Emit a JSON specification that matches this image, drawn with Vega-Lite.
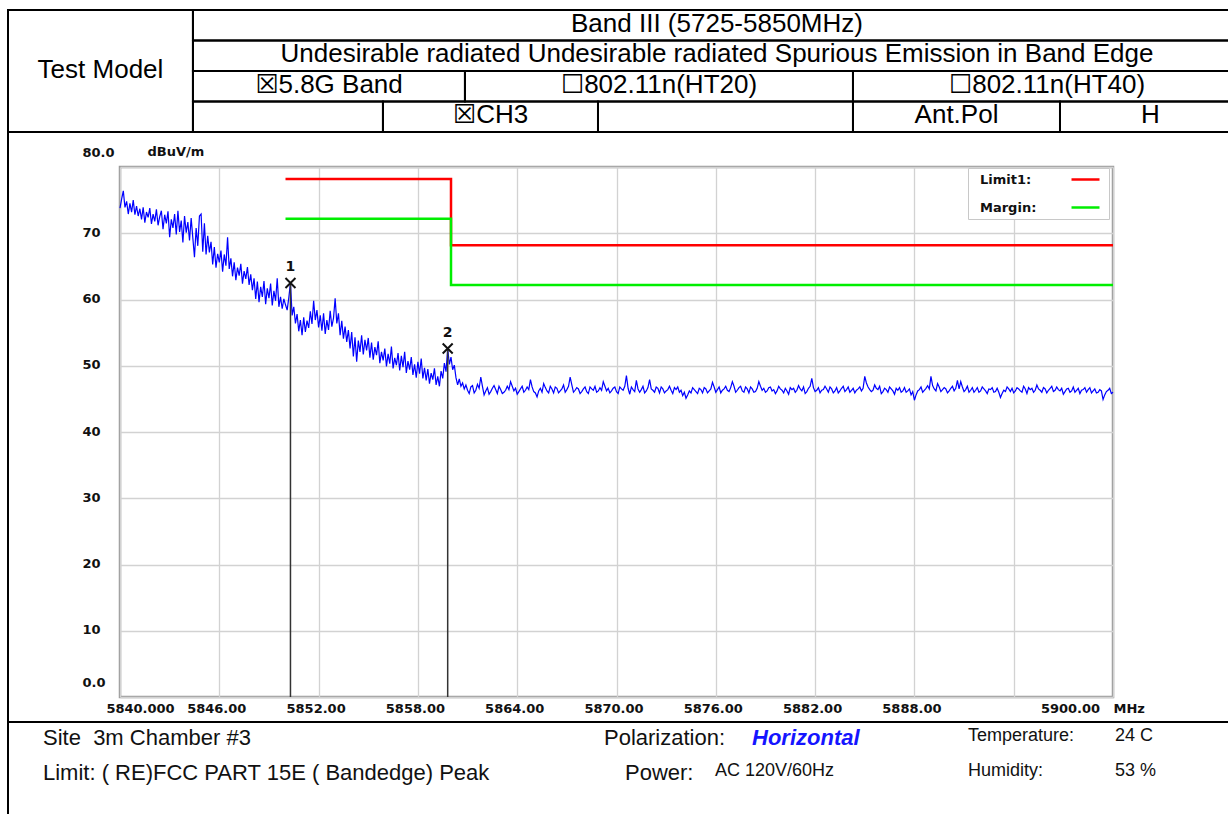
{
  "$schema": "https://vega.github.io/schema/vega-lite/v6.json",
  "width": 993,
  "height": 530,
  "autosize": "none",
  "padding": {"left": 120, "top": 167, "right": 115, "bottom": 117},
  "background": "white",
  "config": {
    "view": {"stroke": "#9a9a9a", "strokeWidth": 2.5},
    "axis": {
      "labelFont": "DejaVu Sans", "labelFontWeight": "bold", "labelFontSize": 13, "labelColor": "#111111",
      "titleFont": "DejaVu Sans", "titleFontWeight": "bold", "titleFontSize": 13, "titleColor": "#111111",
      "grid": true, "gridColor": "#d2d2d2", "gridWidth": 1.3,
      "ticks": false, "tickSize": 0, "domain": false,
      "labelOverlap": false, "labelFlush": false, "labelBound": false
    }
  },
  "datasets": {
    "trace": [
      {"f":5840.0,"v":73.8},{"f":5840.1,"v":75.2},{"f":5840.2,"v":76.4},{"f":5840.3,"v":73.9},{"f":5840.4,"v":74.8},{"f":5840.5,"v":72.9},{"f":5840.6,"v":74.5},{"f":5840.7,"v":73.2},{"f":5840.8,"v":75.0},{"f":5840.9,"v":72.8},
      {"f":5841.0,"v":74.1},{"f":5841.1,"v":72.6},{"f":5841.2,"v":73.7},{"f":5841.3,"v":72.1},{"f":5841.4,"v":73.9},{"f":5841.5,"v":71.6},{"f":5841.6,"v":73.2},{"f":5841.7,"v":72.4},{"f":5841.8,"v":73.8},{"f":5841.9,"v":71.4},
      {"f":5842.0,"v":72.9},{"f":5842.1,"v":71.8},{"f":5842.2,"v":73.6},{"f":5842.3,"v":71.2},{"f":5842.4,"v":72.5},{"f":5842.5,"v":73.4},{"f":5842.6,"v":70.6},{"f":5842.7,"v":72.8},{"f":5842.8,"v":71.5},{"f":5842.9,"v":73.3},
      {"f":5843.0,"v":69.4},{"f":5843.1,"v":72.1},{"f":5843.2,"v":70.8},{"f":5843.3,"v":72.9},{"f":5843.4,"v":69.8},{"f":5843.5,"v":73.4},{"f":5843.6,"v":70.2},{"f":5843.7,"v":71.9},{"f":5843.8,"v":68.6},{"f":5843.9,"v":72.6},
      {"f":5844.0,"v":70.1},{"f":5844.1,"v":71.7},{"f":5844.2,"v":68.9},{"f":5844.3,"v":72.3},{"f":5844.4,"v":69.3},{"f":5844.5,"v":66.4},{"f":5844.6,"v":70.8},{"f":5844.7,"v":68.1},{"f":5844.8,"v":72.6},{"f":5844.9,"v":72.9},
      {"f":5845.0,"v":67.2},{"f":5845.1,"v":71.5},{"f":5845.2,"v":66.8},{"f":5845.3,"v":69.6},{"f":5845.4,"v":67.1},{"f":5845.5,"v":68.7},{"f":5845.6,"v":65.3},{"f":5845.7,"v":67.9},{"f":5845.8,"v":64.8},{"f":5845.9,"v":66.9},
      {"f":5846.0,"v":65.6},{"f":5846.1,"v":67.4},{"f":5846.2,"v":64.2},{"f":5846.3,"v":66.8},{"f":5846.4,"v":65.1},{"f":5846.5,"v":69.4},{"f":5846.6,"v":64.6},{"f":5846.7,"v":66.2},{"f":5846.8,"v":63.5},{"f":5846.9,"v":65.6},
      {"f":5847.0,"v":62.9},{"f":5847.1,"v":64.8},{"f":5847.2,"v":63.6},{"f":5847.3,"v":65.4},{"f":5847.4,"v":62.4},{"f":5847.5,"v":64.3},{"f":5847.6,"v":63.1},{"f":5847.7,"v":64.9},{"f":5847.8,"v":62.2},{"f":5847.9,"v":63.8},
      {"f":5848.0,"v":61.4},{"f":5848.1,"v":63.2},{"f":5848.2,"v":60.1},{"f":5848.3,"v":62.7},{"f":5848.4,"v":59.6},{"f":5848.5,"v":61.9},{"f":5848.6,"v":60.4},{"f":5848.7,"v":62.8},{"f":5848.8,"v":59.3},{"f":5848.9,"v":61.7},
      {"f":5849.0,"v":60.2},{"f":5849.1,"v":62.4},{"f":5849.2,"v":59.1},{"f":5849.3,"v":61.3},{"f":5849.4,"v":59.8},{"f":5849.5,"v":63.2},{"f":5849.6,"v":58.9},{"f":5849.7,"v":60.4},{"f":5849.8,"v":58.6},{"f":5849.9,"v":60.1},
      {"f":5850.0,"v":59.2},{"f":5850.1,"v":58.4},{"f":5850.2,"v":60.3},{"f":5850.3,"v":62.5},{"f":5850.4,"v":57.6},{"f":5850.5,"v":58.9},{"f":5850.6,"v":56.4},{"f":5850.7,"v":57.8},{"f":5850.8,"v":55.2},{"f":5850.9,"v":56.9},
      {"f":5851.0,"v":54.6},{"f":5851.1,"v":57.3},{"f":5851.2,"v":55.1},{"f":5851.3,"v":56.8},{"f":5851.4,"v":55.7},{"f":5851.5,"v":58.2},{"f":5851.6,"v":56.3},{"f":5851.7,"v":59.8},{"f":5851.8,"v":56.9},{"f":5851.9,"v":58.4},
      {"f":5852.0,"v":55.8},{"f":5852.1,"v":57.6},{"f":5852.2,"v":55.3},{"f":5852.3,"v":57.9},{"f":5852.4,"v":54.8},{"f":5852.5,"v":56.9},{"f":5852.6,"v":55.4},{"f":5852.7,"v":58.3},{"f":5852.8,"v":55.9},{"f":5852.9,"v":57.2},
      {"f":5853.0,"v":60.2},{"f":5853.1,"v":56.4},{"f":5853.2,"v":57.9},{"f":5853.3,"v":54.6},{"f":5853.4,"v":56.8},{"f":5853.5,"v":54.1},{"f":5853.6,"v":55.9},{"f":5853.7,"v":53.6},{"f":5853.8,"v":55.4},{"f":5853.9,"v":52.6},
      {"f":5854.0,"v":55.1},{"f":5854.1,"v":51.4},{"f":5854.2,"v":54.3},{"f":5854.3,"v":50.6},{"f":5854.4,"v":53.8},{"f":5854.5,"v":52.1},{"f":5854.6,"v":54.6},{"f":5854.7,"v":51.7},{"f":5854.8,"v":53.9},{"f":5854.9,"v":52.3},
      {"f":5855.0,"v":54.2},{"f":5855.1,"v":51.2},{"f":5855.2,"v":53.5},{"f":5855.3,"v":50.9},{"f":5855.4,"v":52.8},{"f":5855.5,"v":51.6},{"f":5855.6,"v":53.7},{"f":5855.7,"v":50.4},{"f":5855.8,"v":52.1},{"f":5855.9,"v":50.8},
      {"f":5856.0,"v":52.6},{"f":5856.1,"v":49.9},{"f":5856.2,"v":51.8},{"f":5856.3,"v":50.3},{"f":5856.4,"v":52.9},{"f":5856.5,"v":49.6},{"f":5856.6,"v":51.2},{"f":5856.7,"v":50.1},{"f":5856.8,"v":51.9},{"f":5856.9,"v":49.3},
      {"f":5857.0,"v":51.5},{"f":5857.1,"v":49.8},{"f":5857.2,"v":52.1},{"f":5857.3,"v":48.9},{"f":5857.4,"v":50.7},{"f":5857.5,"v":49.4},{"f":5857.6,"v":51.3},{"f":5857.7,"v":48.6},{"f":5857.8,"v":50.2},{"f":5857.9,"v":48.2},
      {"f":5858.0,"v":50.6},{"f":5858.1,"v":48.8},{"f":5858.2,"v":51.1},{"f":5858.3,"v":48.1},{"f":5858.4,"v":49.7},{"f":5858.5,"v":47.8},{"f":5858.6,"v":49.5},{"f":5858.7,"v":47.3},{"f":5858.8,"v":48.9},{"f":5858.9,"v":47.9},
      {"f":5859.0,"v":49.6},{"f":5859.1,"v":47.1},{"f":5859.2,"v":48.4},{"f":5859.3,"v":46.9},{"f":5859.4,"v":49.2},{"f":5859.5,"v":48.1},{"f":5859.6,"v":50.4},{"f":5859.7,"v":49.1},{"f":5859.8,"v":52.6},{"f":5859.9,"v":50.2},
      {"f":5860.0,"v":51.3},{"f":5860.1,"v":49.4},{"f":5860.2,"v":50.1},{"f":5860.3,"v":48.2},{"f":5860.4,"v":47.1},{"f":5860.5,"v":48.0},{"f":5860.6,"v":46.9},{"f":5860.7,"v":47.4},{"f":5860.8,"v":46.5},{"f":5860.9,"v":47.1},
      {"f":5861.0,"v":46.3},{"f":5861.2,"v":46.8},{"f":5861.4,"v":45.9},{"f":5861.6,"v":47.2},{"f":5861.8,"v":48.3},{"f":5862.0,"v":45.6},{"f":5862.2,"v":46.7},{"f":5862.4,"v":46.1},{"f":5862.6,"v":47.0},{"f":5862.8,"v":45.8},
      {"f":5863.0,"v":46.4},{"f":5863.2,"v":46.0},{"f":5863.4,"v":46.9},{"f":5863.6,"v":47.6},{"f":5863.8,"v":46.2},{"f":5864.0,"v":45.7},{"f":5864.2,"v":46.5},{"f":5864.4,"v":46.0},{"f":5864.6,"v":46.8},{"f":5864.8,"v":47.9},
      {"f":5865.0,"v":46.1},{"f":5865.2,"v":45.3},{"f":5865.4,"v":46.6},{"f":5865.6,"v":47.3},{"f":5865.8,"v":46.2},{"f":5866.0,"v":46.9},{"f":5866.2,"v":45.9},{"f":5866.4,"v":46.6},{"f":5866.6,"v":46.2},{"f":5866.8,"v":47.1},
      {"f":5867.0,"v":46.4},{"f":5867.2,"v":48.3},{"f":5867.4,"v":46.0},{"f":5867.6,"v":46.7},{"f":5867.8,"v":45.8},{"f":5868.0,"v":46.5},{"f":5868.2,"v":46.1},{"f":5868.4,"v":46.8},{"f":5868.6,"v":46.3},{"f":5868.8,"v":46.0},
      {"f":5869.0,"v":46.7},{"f":5869.2,"v":47.6},{"f":5869.4,"v":46.2},{"f":5869.6,"v":45.9},{"f":5869.8,"v":46.6},{"f":5870.0,"v":46.1},{"f":5870.2,"v":46.8},{"f":5870.4,"v":46.3},{"f":5870.6,"v":48.5},{"f":5870.8,"v":45.7},
      {"f":5871.0,"v":46.4},{"f":5871.2,"v":47.8},{"f":5871.4,"v":46.0},{"f":5871.6,"v":46.9},{"f":5871.8,"v":46.2},{"f":5872.0,"v":47.9},{"f":5872.2,"v":46.3},{"f":5872.4,"v":46.8},{"f":5872.6,"v":45.9},{"f":5872.8,"v":46.5},
      {"f":5873.0,"v":46.2},{"f":5873.2,"v":46.9},{"f":5873.4,"v":45.8},{"f":5873.6,"v":46.4},{"f":5873.8,"v":46.0},{"f":5874.0,"v":45.5},{"f":5874.2,"v":45.1},{"f":5874.4,"v":46.2},{"f":5874.6,"v":46.7},{"f":5874.8,"v":46.1},
      {"f":5875.0,"v":46.6},{"f":5875.2,"v":45.9},{"f":5875.4,"v":46.5},{"f":5875.6,"v":46.2},{"f":5875.8,"v":47.5},{"f":5876.0,"v":46.0},{"f":5876.2,"v":46.8},{"f":5876.4,"v":46.3},{"f":5876.6,"v":46.9},{"f":5876.8,"v":46.1},
      {"f":5877.0,"v":47.6},{"f":5877.2,"v":46.0},{"f":5877.4,"v":46.7},{"f":5877.6,"v":46.2},{"f":5877.8,"v":46.8},{"f":5878.0,"v":45.9},{"f":5878.2,"v":46.5},{"f":5878.4,"v":46.1},{"f":5878.6,"v":47.6},{"f":5878.8,"v":46.3},
      {"f":5879.0,"v":46.0},{"f":5879.2,"v":46.7},{"f":5879.4,"v":46.2},{"f":5879.6,"v":45.8},{"f":5879.8,"v":46.9},{"f":5880.0,"v":46.3},{"f":5880.2,"v":46.6},{"f":5880.4,"v":45.7},{"f":5880.6,"v":46.4},{"f":5880.8,"v":46.0},
      {"f":5881.0,"v":47.0},{"f":5881.2,"v":46.2},{"f":5881.4,"v":45.8},{"f":5881.6,"v":46.6},{"f":5881.8,"v":48.1},{"f":5882.0,"v":46.1},{"f":5882.2,"v":46.7},{"f":5882.4,"v":46.3},{"f":5882.6,"v":46.9},{"f":5882.8,"v":46.0},
      {"f":5883.0,"v":46.5},{"f":5883.2,"v":46.2},{"f":5883.4,"v":45.9},{"f":5883.6,"v":46.6},{"f":5883.8,"v":46.1},{"f":5884.0,"v":46.8},{"f":5884.2,"v":46.3},{"f":5884.4,"v":45.9},{"f":5884.6,"v":46.5},{"f":5884.8,"v":46.2},
      {"f":5885.0,"v":48.4},{"f":5885.2,"v":46.8},{"f":5885.4,"v":46.1},{"f":5885.6,"v":47.1},{"f":5885.8,"v":46.4},{"f":5886.0,"v":45.8},{"f":5886.2,"v":46.6},{"f":5886.4,"v":46.0},{"f":5886.6,"v":46.5},{"f":5886.8,"v":45.7},
      {"f":5887.0,"v":46.3},{"f":5887.2,"v":46.0},{"f":5887.4,"v":46.7},{"f":5887.6,"v":46.2},{"f":5887.8,"v":45.6},{"f":5888.0,"v":44.8},{"f":5888.2,"v":46.2},{"f":5888.4,"v":46.8},{"f":5888.6,"v":46.3},{"f":5888.8,"v":47.0},
      {"f":5889.0,"v":48.4},{"f":5889.2,"v":46.5},{"f":5889.4,"v":47.3},{"f":5889.6,"v":46.1},{"f":5889.8,"v":46.7},{"f":5890.0,"v":45.9},{"f":5890.2,"v":46.6},{"f":5890.4,"v":46.2},{"f":5890.6,"v":47.8},{"f":5890.8,"v":47.6},
      {"f":5891.0,"v":46.1},{"f":5891.2,"v":46.9},{"f":5891.4,"v":46.3},{"f":5891.6,"v":46.0},{"f":5891.8,"v":46.7},{"f":5892.0,"v":46.2},{"f":5892.2,"v":46.5},{"f":5892.4,"v":45.8},{"f":5892.6,"v":46.4},{"f":5892.8,"v":46.0},
      {"f":5893.0,"v":46.6},{"f":5893.2,"v":45.2},{"f":5893.4,"v":46.3},{"f":5893.6,"v":46.8},{"f":5893.8,"v":46.1},{"f":5894.0,"v":45.9},{"f":5894.2,"v":46.7},{"f":5894.4,"v":46.2},{"f":5894.6,"v":46.9},{"f":5894.8,"v":45.8},
      {"f":5895.0,"v":46.4},{"f":5895.2,"v":46.0},{"f":5895.4,"v":47.1},{"f":5895.6,"v":46.3},{"f":5895.8,"v":46.7},{"f":5896.0,"v":45.9},{"f":5896.2,"v":46.6},{"f":5896.4,"v":46.1},{"f":5896.6,"v":46.8},{"f":5896.8,"v":46.2},
      {"f":5897.0,"v":45.7},{"f":5897.2,"v":46.5},{"f":5897.4,"v":46.0},{"f":5897.6,"v":46.8},{"f":5897.8,"v":46.3},{"f":5898.0,"v":45.8},{"f":5898.2,"v":46.4},{"f":5898.4,"v":46.0},{"f":5898.6,"v":46.7},{"f":5898.8,"v":46.2},
      {"f":5899.0,"v":45.9},{"f":5899.2,"v":46.4},{"f":5899.4,"v":44.9},{"f":5899.6,"v":46.1},{"f":5899.8,"v":46.6},{"f":5900.0,"v":46.0},
      {"f":5861.1,"v":45.8},{"f":5861.3,"v":47.0},{"f":5861.5,"v":46.3},{"f":5861.7,"v":46.6},{"f":5861.9,"v":46.9},{"f":5862.1,"v":46.2},{"f":5862.3,"v":45.7},{"f":5862.5,"v":46.6},{"f":5862.7,"v":46.4},{"f":5862.9,"v":46.9},
      {"f":5863.1,"v":45.8},{"f":5863.3,"v":46.3},{"f":5863.5,"v":46.4},{"f":5863.7,"v":46.9},{"f":5863.9,"v":46.6},{"f":5864.1,"v":46.1},{"f":5864.3,"v":46.9},{"f":5864.5,"v":46.3},{"f":5864.7,"v":46.4},{"f":5864.9,"v":46.8},
      {"f":5865.1,"v":45.9},{"f":5865.3,"v":46.2},{"f":5865.5,"v":46.0},{"f":5865.7,"v":46.7},{"f":5865.9,"v":45.9},{"f":5866.1,"v":46.5},{"f":5866.3,"v":46.8},{"f":5866.5,"v":45.9},{"f":5866.7,"v":46.5},{"f":5866.9,"v":46.0},
      {"f":5867.1,"v":46.9},{"f":5867.3,"v":47.1},{"f":5867.5,"v":46.3},{"f":5867.7,"v":46.5},{"f":5867.9,"v":46.1},{"f":5868.1,"v":46.8},{"f":5868.3,"v":45.8},{"f":5868.5,"v":46.5},{"f":5868.7,"v":46.9},{"f":5868.9,"v":46.2},
      {"f":5869.1,"v":46.3},{"f":5869.3,"v":46.9},{"f":5869.5,"v":46.6},{"f":5869.7,"v":46.2},{"f":5869.9,"v":46.8},{"f":5870.1,"v":45.8},{"f":5870.3,"v":46.5},{"f":5870.5,"v":46.9},{"f":5870.7,"v":46.6},{"f":5870.9,"v":46.8},
      {"f":5871.1,"v":46.1},{"f":5871.3,"v":46.5},{"f":5871.5,"v":46.4},{"f":5871.7,"v":45.9},{"f":5871.9,"v":46.7},{"f":5872.1,"v":46.5},{"f":5872.3,"v":46.0},{"f":5872.5,"v":46.6},{"f":5872.7,"v":46.8},{"f":5872.9,"v":45.9},
      {"f":5873.1,"v":46.4},{"f":5873.3,"v":46.3},{"f":5873.5,"v":46.7},{"f":5873.7,"v":46.8},{"f":5873.9,"v":46.3},{"f":5874.1,"v":46.0},{"f":5874.3,"v":45.6},{"f":5874.5,"v":45.9},{"f":5874.7,"v":46.4},{"f":5874.9,"v":45.8},
      {"f":5875.1,"v":46.4},{"f":5875.3,"v":46.7},{"f":5875.5,"v":45.9},{"f":5875.7,"v":46.5},{"f":5875.9,"v":46.8},{"f":5876.1,"v":46.4},{"f":5876.3,"v":45.9},{"f":5876.5,"v":46.5},{"f":5876.7,"v":46.3},{"f":5876.9,"v":46.7},
      {"f":5877.1,"v":46.9},{"f":5877.3,"v":46.3},{"f":5877.5,"v":46.9},{"f":5877.7,"v":46.0},{"f":5877.9,"v":46.5},{"f":5878.1,"v":46.8},{"f":5878.3,"v":46.0},{"f":5878.5,"v":46.6},{"f":5878.7,"v":46.9},{"f":5878.9,"v":46.6},
      {"f":5879.1,"v":46.2},{"f":5879.3,"v":46.8},{"f":5879.5,"v":46.4},{"f":5879.7,"v":46.2},{"f":5879.9,"v":46.5},{"f":5880.1,"v":45.9},{"f":5880.3,"v":46.2},{"f":5880.5,"v":46.7},{"f":5880.7,"v":46.6},{"f":5880.9,"v":46.3},
      {"f":5881.1,"v":46.5},{"f":5881.3,"v":46.8},{"f":5881.5,"v":46.1},{"f":5881.7,"v":46.9},{"f":5881.9,"v":46.7},{"f":5882.1,"v":46.3},{"f":5882.3,"v":45.9},{"f":5882.5,"v":46.4},{"f":5882.7,"v":46.5},{"f":5882.9,"v":46.8},
      {"f":5883.1,"v":45.9},{"f":5883.3,"v":46.7},{"f":5883.5,"v":46.2},{"f":5883.7,"v":46.9},{"f":5883.9,"v":46.4},{"f":5884.1,"v":46.0},{"f":5884.3,"v":46.6},{"f":5884.5,"v":46.3},{"f":5884.7,"v":46.8},{"f":5884.9,"v":46.6},
      {"f":5885.1,"v":47.4},{"f":5885.3,"v":46.4},{"f":5885.5,"v":46.3},{"f":5885.7,"v":46.6},{"f":5885.9,"v":46.9},{"f":5886.1,"v":46.1},{"f":5886.3,"v":46.4},{"f":5886.5,"v":46.8},{"f":5886.7,"v":46.2},{"f":5886.9,"v":46.6},
      {"f":5887.1,"v":46.7},{"f":5887.3,"v":46.2},{"f":5887.5,"v":46.0},{"f":5887.7,"v":46.5},{"f":5887.9,"v":46.1},{"f":5888.1,"v":45.6},{"f":5888.3,"v":46.4},{"f":5888.5,"v":46.0},{"f":5888.7,"v":46.6},{"f":5888.9,"v":46.5},
      {"f":5889.1,"v":47.0},{"f":5889.3,"v":46.2},{"f":5889.5,"v":46.8},{"f":5889.7,"v":46.4},{"f":5889.9,"v":46.5},{"f":5890.1,"v":46.2},{"f":5890.3,"v":46.9},{"f":5890.5,"v":46.6},{"f":5890.7,"v":46.5},{"f":5890.9,"v":46.8},
      {"f":5891.1,"v":46.4},{"f":5891.3,"v":46.0},{"f":5891.5,"v":46.7},{"f":5891.7,"v":46.3},{"f":5891.9,"v":46.0},{"f":5892.1,"v":46.8},{"f":5892.3,"v":46.2},{"f":5892.5,"v":46.5},{"f":5892.7,"v":46.7},{"f":5892.9,"v":46.1},
      {"f":5893.1,"v":46.0},{"f":5893.3,"v":45.8},{"f":5893.5,"v":46.1},{"f":5893.7,"v":46.5},{"f":5893.9,"v":46.6},{"f":5894.1,"v":46.2},{"f":5894.3,"v":46.5},{"f":5894.5,"v":46.0},{"f":5894.7,"v":46.5},{"f":5894.9,"v":46.7},
      {"f":5895.1,"v":46.6},{"f":5895.3,"v":46.3},{"f":5895.5,"v":46.5},{"f":5895.7,"v":46.0},{"f":5895.9,"v":46.5},{"f":5896.1,"v":46.3},{"f":5896.3,"v":46.9},{"f":5896.5,"v":46.3},{"f":5896.7,"v":46.4},{"f":5896.9,"v":46.6},
      {"f":5897.1,"v":46.1},{"f":5897.3,"v":46.6},{"f":5897.5,"v":46.2},{"f":5897.7,"v":46.0},{"f":5897.9,"v":46.6},{"f":5898.1,"v":46.3},{"f":5898.3,"v":46.7},{"f":5898.5,"v":46.4},{"f":5898.7,"v":45.9},{"f":5898.9,"v":46.5},
      {"f":5899.1,"v":46.0},{"f":5899.3,"v":46.2},{"f":5899.5,"v":45.6},{"f":5899.7,"v":46.3},{"f":5899.9,"v":45.8}
    ],
    "limits": [
      {"series":"Limit1:","f":5850,"v":78.2},{"series":"Limit1:","f":5860,"v":68.2},{"series":"Limit1:","f":5900,"v":68.2},
      {"series":"Margin:","f":5850,"v":72.2},{"series":"Margin:","f":5860,"v":62.2},{"series":"Margin:","f":5900,"v":62.2}
    ],
    "markers": [
      {"m":"1","f":5850.3,"v":62.5},
      {"m":"2","f":5859.8,"v":52.6}
    ],
    "table": [
      {"cell":"c01","label":"Test Model","px":0,"row":0},{"cell":"c01","label":"Test Model","px":15.0,"row":4},
      {"cell":"c02","label":"Band III (5725-5850MHz)","px":15.0,"row":0},{"cell":"c02","label":"Band III (5725-5850MHz)","px":100,"row":1},
      {"cell":"c03","label":"Undesirable radiated Undesirable radiated Spurious Emission in Band Edge","px":15.0,"row":1},{"cell":"c03","label":"Undesirable radiated Undesirable radiated Spurious Emission in Band Edge","px":100,"row":2},
      {"cell":"c04","label":"☒5.8G Band","px":15.0,"row":2},{"cell":"c04","label":"☒5.8G Band","px":37.06,"row":3},
      {"cell":"c05","label":"☐802.11n(HT20)","px":37.06,"row":2},{"cell":"c05","label":"☐802.11n(HT20)","px":68.53,"row":3},
      {"cell":"c06","label":"☐802.11n(HT40)","px":68.53,"row":2},{"cell":"c06","label":"☐802.11n(HT40)","px":100,"row":3},
      {"cell":"c07","label":"","px":15.0,"row":3},{"cell":"c07","label":"","px":30.41,"row":4},
      {"cell":"c08","label":"☒CH3","px":30.41,"row":3},{"cell":"c08","label":"☒CH3","px":47.85,"row":4},
      {"cell":"c09","label":"","px":47.85,"row":3},{"cell":"c09","label":"","px":68.53,"row":4},
      {"cell":"c10","label":"Ant.Pol","px":68.53,"row":3},{"cell":"c10","label":"Ant.Pol","px":85.32,"row":4},
      {"cell":"c11","label":"H","px":85.32,"row":3},{"cell":"c11","label":"H","px":100,"row":4}
    ],
    "frame": [
      {"c0":-1,"c1":-1,"l0":-1,"l1":3},
      {"c0":-1,"c1":7,"l0":0,"l1":0}
    ],
    "footerMain": [
      {"text":"Site\u00a0 3m Chamber #3","col":0,"line":1},
      {"text":"Limit: ( RE)FCC PART 15E ( Bandedge) Peak","col":0,"line":2},
      {"text":"Polarization:","col":1,"line":1},
      {"text":"Power:","col":2,"line":2}
    ],
    "footerEmph": [
      {"text":"Horizontal","col":4,"line":1}
    ],
    "footerSmall": [
      {"text":"AC 120V/60Hz","col":3,"line":2},
      {"text":"Temperature:","col":5,"line":1},
      {"text":"24 C","col":6,"line":1},
      {"text":"Humidity:","col":5,"line":2},
      {"text":"53 %","col":6,"line":2}
    ]
  },
  "resolve": {"scale": {"x": "independent", "y": "independent", "color": "independent"}},
  "layer": [
    {
      "layer": [
        {
          "data": {"name": "limits"},
          "mark": {"type": "line", "interpolate": "step-after", "strokeWidth": 2.5},
          "encoding": {
            "x": {
              "field": "f", "type": "quantitative",
              "scale": {"domain": [5840, 5900], "nice": false, "zero": false},
              "axis": {
                "values": [5840, 5846, 5852, 5858, 5864, 5870, 5876, 5882, 5888, 5894, 5900],
                "labelExpr": "datum.value == 5840 ? '5840.000' : (datum.value == 5894 ? '' : format(datum.value, '.2f'))",
                "labelOffset": {"condition": [{"test": "datum.value == 5840", "value": 20}, {"test": "datum.value == 5900", "value": -43}], "value": -3},
                "labelPadding": 5, "labelBaseline": "top",
                "title": "MHz", "titleX": 993, "titleY": 5, "titleAlign": "left", "titleBaseline": "top"
              }
            },
            "y": {
              "field": "v", "type": "quantitative",
              "scale": {"domain": [0, 80], "nice": false, "zero": false},
              "axis": {
                "values": [0, 10, 20, 30, 40, 50, 60, 70, 80],
                "labelExpr": "datum.value == 80 || datum.value == 0 ? format(datum.value, '.1f') : format(datum.value, 'd')",
                "labelAlign": "left", "labelBaseline": "middle", "labelPadding": 38,
                "labelOffset": {"condition": {"test": "datum.value == 80 || datum.value == 0", "value": -15}, "value": -1},
                "title": "dBuV/m", "titleAngle": 0, "titleX": 27, "titleY": -16, "titleAlign": "left", "titleBaseline": "middle"
              }
            },
            "color": {
              "field": "series", "type": "nominal",
              "scale": {"domain": ["Limit1:", "Margin:"], "range": ["#ff0000", "#00ee00"]},
              "legend": {
                "orient": "none", "legendX": 848, "legendY": 1, "title": null, "direction": "vertical",
                "symbolType": "M-2.333,0H2.333", "symbolSize": 144, "symbolStrokeWidth": 2.5, "symbolOffset": 106,
                "labelOffset": -113, "labelExpr": "'\u00a0\u00a0' + datum.label",
                "labelFont": "DejaVu Sans", "labelFontWeight": "bold", "labelFontSize": 13,
                "labelColor": "#111111", "labelLimit": 300, "padding": 4, "strokeColor": "#c8c8c8", "fillColor": "#ffffff", "rowPadding": 13
              }
            }
          }
        },
        {
          "data": {"name": "trace"},
          "mark": {"type": "line", "color": "#0000ff", "strokeWidth": 1.2},
          "encoding": {
            "x": {"field": "f", "type": "quantitative"},
            "y": {"field": "v", "type": "quantitative"}
          }
        },
        {
          "data": {"name": "markers"},
          "mark": {"type": "rule", "color": "#333333", "strokeWidth": 1.5},
          "encoding": {
            "x": {"field": "f", "type": "quantitative"},
            "y": {"field": "v", "type": "quantitative"},
            "y2": {"datum": 0}
          }
        },
        {
          "data": {"name": "markers"},
          "mark": {"type": "point", "shape": "M-1,-1L1,1M-1,1L1,-1", "size": 100, "filled": false, "color": "#111111", "strokeWidth": 2, "opacity": 1},
          "encoding": {
            "x": {"field": "f", "type": "quantitative"},
            "y": {"field": "v", "type": "quantitative"}
          }
        },
        {
          "data": {"name": "markers"},
          "mark": {"type": "text", "dy": -16, "font": "DejaVu Sans", "fontWeight": "bold", "fontSize": 14, "color": "#111111"},
          "encoding": {
            "x": {"field": "f", "type": "quantitative"},
            "y": {"field": "v", "type": "quantitative"},
            "text": {"field": "m", "type": "nominal"}
          }
        }
      ]
    },
    {
      "data": {"name": "table"},
      "layer": [
        {
          "mark": {"type": "rect", "filled": false, "stroke": "#000000", "strokeWidth": 2},
          "encoding": {
            "x": {"aggregate": "min", "field": "px", "type": "quantitative", "scale": {"domain": [0, 100], "range": [-112, 1121], "nice": false, "zero": false}, "axis": null},
            "x2": {"aggregate": "max", "field": "px"},
            "y": {"aggregate": "min", "field": "row", "type": "quantitative", "scale": {"domain": [0, 4], "range": [-157, -35], "nice": false, "zero": false}, "axis": null},
            "y2": {"aggregate": "max", "field": "row"},
            "detail": {"field": "cell", "type": "nominal"}
          }
        },
        {
          "mark": {"type": "text", "font": "Liberation Sans, DejaVu Sans", "fontSize": 26, "color": "#000000", "align": "center", "baseline": "middle", "dy": -1.5},
          "encoding": {
            "x": {"aggregate": "mean", "field": "px", "type": "quantitative"},
            "y": {"aggregate": "mean", "field": "row", "type": "quantitative"},
            "text": {"field": "label", "type": "nominal"},
            "detail": {"field": "cell", "type": "nominal"}
          }
        }
      ]
    },
    {
      "layer": [
        {
          "data": {"name": "frame"},
          "mark": {"type": "rule", "color": "#000000", "strokeWidth": 2},
          "encoding": {
            "x": {"field": "c0", "type": "quantitative", "scale": {"domain": [-1, 0, 1, 2, 3, 4, 5, 6, 7], "range": [-112, -77, 484, 505, 595, 632, 848, 995, 1121], "nice": false, "zero": false}, "axis": null},
            "x2": {"field": "c1"},
            "y": {"field": "l0", "type": "quantitative", "scale": {"domain": [-1, 0, 1, 2, 3], "range": [-35, 555, 571, 606, 649], "nice": false, "zero": false}, "axis": null},
            "y2": {"field": "l1"}
          }
        },
        {
          "data": {"name": "footerMain"},
          "mark": {"type": "text", "font": "Liberation Sans", "fontSize": 22, "color": "#111111", "align": "left", "baseline": "middle"},
          "encoding": {
            "x": {"field": "col", "type": "quantitative"},
            "y": {"field": "line", "type": "quantitative"},
            "text": {"field": "text", "type": "nominal"}
          }
        },
        {
          "data": {"name": "footerEmph"},
          "mark": {"type": "text", "font": "Liberation Sans", "fontSize": 22, "fontWeight": "bold", "fontStyle": "italic", "color": "#1515ff", "align": "left", "baseline": "middle"},
          "encoding": {
            "x": {"field": "col", "type": "quantitative"},
            "y": {"field": "line", "type": "quantitative"},
            "text": {"field": "text", "type": "nominal"}
          }
        },
        {
          "data": {"name": "footerSmall"},
          "mark": {"type": "text", "font": "Liberation Sans", "fontSize": 18, "color": "#111111", "align": "left", "baseline": "middle", "dy": -2},
          "encoding": {
            "x": {"field": "col", "type": "quantitative"},
            "y": {"field": "line", "type": "quantitative"},
            "text": {"field": "text", "type": "nominal"}
          }
        }
      ]
    }
  ]
}
